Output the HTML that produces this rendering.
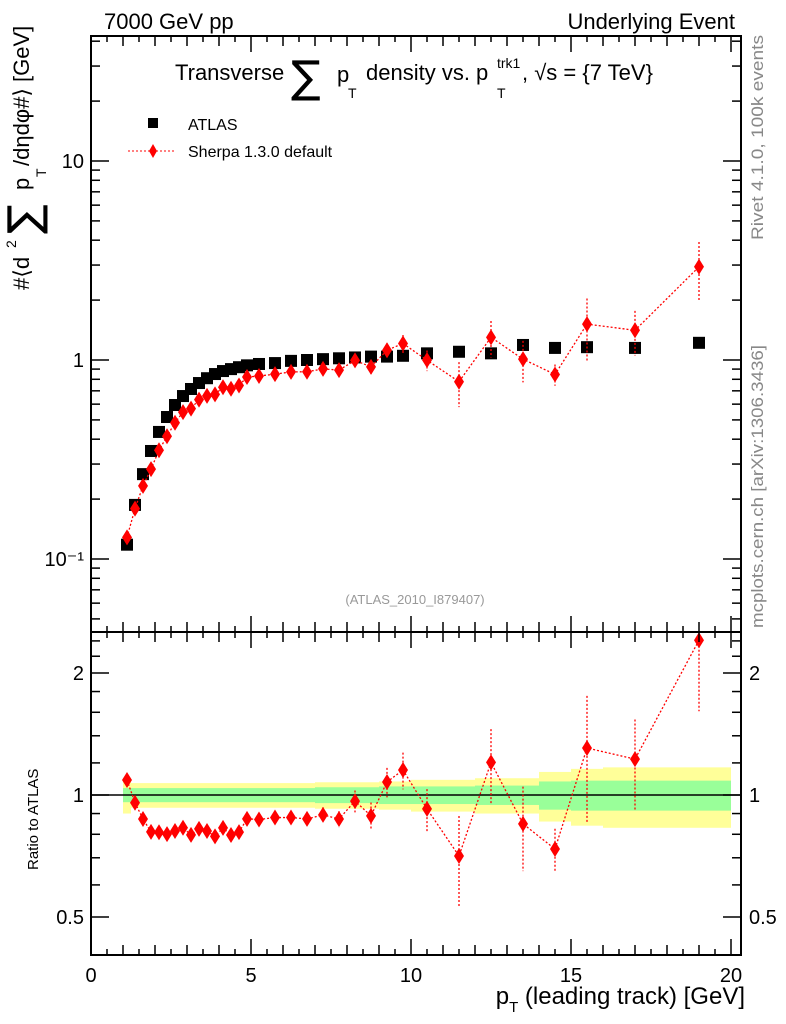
<!DOCTYPE html>
<html><head><meta charset="utf-8"><style>
body{margin:0;background:#fff;}
svg{display:block;font-family:"Liberation Sans",sans-serif;}
</style></head><body>
<svg id="c" width="786" height="1024" viewBox="0 0 786 1024">
<text x="104" y="29" font-size="22">7000 GeV pp</text>
<text x="735" y="29" font-size="22" text-anchor="end">Underlying Event</text>
<g font-size="22">
<text x="175" y="80">Transverse</text>
<text x="291" y="92" font-size="44" font-family="DejaVu Sans,sans-serif">∑</text>
<text x="337" y="82">p</text>
<text x="348" y="98" font-size="14">T</text>
<text x="366" y="80">density vs. p</text>
<text x="497" y="98" font-size="14">T</text>
<text x="497" y="68" font-size="14">trk1</text>
<text x="522" y="80">, √s = {7 TeV}</text>
</g>
<g>
<rect x="148" y="118" width="10" height="10" fill="#000"/>
<text x="188" y="130" font-size="16">ATLAS</text>
<line x1="128" y1="151" x2="174" y2="151" stroke="red" stroke-dasharray="2,2"/>
<path d="M153,144 L157,151 L153,158 L149,151 Z" fill="red"/>
<text x="188" y="157" font-size="16">Sherpa 1.3.0 default</text>
</g>
<text x="415" y="604" font-size="13" fill="#999" text-anchor="middle">(ATLAS_2010_I879407)</text>
<g transform="translate(29,290) rotate(-90)" font-size="22">
<text x="0" y="0">#⟨d</text><text x="42" y="-13" font-size="14">2</text>
<text x="56" y="10" font-size="44" font-family="DejaVu Sans,sans-serif">∑</text>
<text x="100" y="0">p</text><text x="113" y="17" font-size="14">T</text>
<text x="124" y="0">/dηdφ#⟩ [GeV]</text>
</g>
<text transform="translate(763,240) rotate(-90)" font-size="17" fill="#888" textLength="205" lengthAdjust="spacingAndGlyphs">Rivet 4.1.0,  100k events</text>
<text transform="translate(763,628) rotate(-90)" font-size="17" fill="#888" textLength="283" lengthAdjust="spacingAndGlyphs">mcplots.cern.ch [arXiv:1306.3436]</text>
<text transform="translate(38,870) rotate(-90)" font-size="15">Ratio to ATLAS</text>
<text x="745" y="1004" font-size="24" text-anchor="end">p<tspan font-size="15" dy="8">T</tspan><tspan dy="-8"> (leading track) [GeV]</tspan></text>
<g id="g"></g>
</svg>
<script>
const xVals=[1.125,1.375,1.625,1.875,2.125,2.375,2.625,2.875,3.125,3.375,3.625,3.875,4.125,4.375,4.625,4.875,5.25,5.75,6.25,6.75,7.25,7.75,8.25,8.75,9.25,9.75,10.5,11.5,12.5,13.5,14.5,15.5,17,19];
const binEdges=[1,1.25,1.5,1.75,2,2.25,2.5,2.75,3,3.25,3.5,3.75,4,4.25,4.5,4.75,5,5.5,6,6.5,7,7.5,8,8.5,9,9.5,10,11,12,13,14,15,16,18,20];
const atlasVals=[0.118,0.187,0.267,0.349,0.435,0.517,0.594,0.659,0.715,0.766,0.81,0.85,0.88,0.90,0.92,0.94,0.955,0.965,0.99,1.0,1.01,1.02,1.03,1.04,1.04,1.05,1.08,1.10,1.08,1.19,1.15,1.16,1.15,1.22];
const sherpaVals=[0.1285,0.179,0.233,0.283,0.352,0.414,0.484,0.547,0.570,0.632,0.660,0.672,0.730,0.717,0.745,0.821,0.831,0.849,0.871,0.873,0.902,0.890,0.995,0.924,1.12,1.21,0.998,0.778,1.30,1.01,0.846,1.515,1.41,2.94];
const ratioErr=[0.02,0.02,0.02,0.02,0.02,0.02,0.02,0.02,0.02,0.02,0.02,0.02,0.02,0.02,0.02,0.02,0.02,0.03,0.03,0.03,0.04,0.04,0.06,0.07,0.09,0.12,0.11,0.18,0.25,0.2,0.09,0.45,0.31,0.8];
const yellowErr=[0.1,0.07,0.07,0.07,0.07,0.07,0.07,0.07,0.07,0.07,0.07,0.07,0.07,0.07,0.07,0.07,0.07,0.07,0.07,0.07,0.075,0.075,0.075,0.075,0.08,0.08,0.09,0.09,0.1,0.1,0.14,0.16,0.17,0.17];
const greenErr=[0.04,0.04,0.04,0.04,0.04,0.04,0.04,0.04,0.04,0.04,0.04,0.04,0.04,0.04,0.04,0.04,0.04,0.04,0.04,0.04,0.045,0.045,0.045,0.045,0.05,0.05,0.05,0.05,0.055,0.055,0.08,0.085,0.085,0.085];
const xTicks=[0,5,10,15,20];
const mainTicks=[0.1,1,10];
const mainTickLabels=["10\u207B\u00B9","1","10"];
const ratioTicks=[0.5,1,2];
const ratioTickLabels=["0.5","1","2"];

const L=91,R=741,T=36,MB=632,RB=955;
const NS="http://www.w3.org/2000/svg";
const g=document.getElementById('g');
const X=v=>91+v*32;
const YM=v=>360-199*Math.log10(v);
const YR=v=>795-122*Math.log2(v);
function el(t,a,p){const e=document.createElementNS(NS,t);for(const k in a)e.setAttribute(k,a[k]);(p||g).appendChild(e);return e;}
for(let i=0;i<xVals.length;i++){
  const x1=X(binEdges[i]),x2=X(binEdges[i+1]);
  let r=el('rect',{x:x1,y:YR(1+yellowErr[i]),width:x2-x1,height:YR(1-yellowErr[i])-YR(1+yellowErr[i]),fill:'#ffff99'});
  
  
  let q=el('rect',{x:x1,y:YR(1+greenErr[i]),width:x2-x1,height:YR(1-greenErr[i])-YR(1+greenErr[i]),fill:'#99ff99'});
  
  
}
let one=el('line',{x1:L,x2:R,y1:YR(1),y2:YR(1),stroke:'#000','stroke-width':1.5});


const defs=el('defs',{});
const cp1=el('clipPath',{id:'cm'},defs);el('rect',{x:L,y:T,width:R-L,height:MB-T},cp1);
const cp2=el('clipPath',{id:'cr'},defs);el('rect',{x:L,y:MB,width:R-L,height:RB-MB},cp2);
const gm=el('g',{'clip-path':'url(#cm)'});
const gr=el('g',{'clip-path':'url(#cr)'});
for(let i=0;i<xVals.length;i++){
  let s=el('rect',{x:X(xVals[i])-6,y:YM(atlasVals[i])-6,width:12,height:12,fill:'#000'},gm);
  
  
}
function series(gp,Y,vals,errs){
  let d='';
  for(let i=0;i<xVals.length;i++)d+=(i?'L':'M')+X(xVals[i])+','+Y(vals[i]);
  let p=el('path',{d:d,fill:'none',stroke:'red','stroke-dasharray':'2,2','stroke-width':1.3},gp);
  
  
  for(let i=0;i<xVals.length;i++){
    const x=X(xVals[i]),y=Y(vals[i]);
    const lo=Math.max(vals[i]-errs[i],1e-3);
    let e=el('line',{x1:x,x2:x,y1:Y(vals[i]+errs[i]),y2:Y(lo),stroke:'red','stroke-dasharray':'2,2','stroke-width':1.3},gp);
    
    
    let m=el('path',{d:`M${x},${y-8}L${x+5},${y}L${x},${y+8}L${x-5},${y}Z`,fill:'red'},gp);
    
    
  }
}
series(gm,YM,sherpaVals,sherpaVals.map((v,i)=>ratioErr[i]*atlasVals[i]));
series(gr,YR,sherpaVals.map((v,i)=>v/atlasVals[i]),ratioErr);
for(const [y1,y2,n] of [[T,MB,'main-frame'],[MB,RB,'ratio-frame']]){
  let f=el('rect',{x:L,y:y1,width:R-L,height:y2-y1,fill:'none',stroke:'#000','stroke-width':2});
  
  
}
for(let v=0;v<=20.3;v+=0.5){
  const major=Math.abs(v%5)<1e-6, mid=Math.abs(v%1)<1e-6;
  const len=major?16:(mid?10:6);const x=X(v);
  for(const [y,dir] of [[T,1],[MB,-1],[MB,1],[RB,-1]])el('line',{x1:x,x2:x,y1:y,y2:y+dir*len,stroke:'#000','stroke-width':1.5});
}
xTicks.forEach(v=>{let t=el('text',{x:X(v),y:982,'font-size':20,'text-anchor':'middle'});t.textContent=v;});
for(let d=-2;d<=1;d++)for(let k=1;k<10;k++){
  const v=k*Math.pow(10,d);const y=YM(v);if(y<T||y>MB)continue;
  const len=k==1?18:9;
  el('line',{x1:L,x2:L+len,y1:y,y2:y,stroke:'#000','stroke-width':1.5});
  el('line',{x1:R,x2:R-len,y1:y,y2:y,stroke:'#000','stroke-width':1.5});
}
mainTicks.forEach((v,i)=>{let t=el('text',{x:84,y:YM(v)+7,'font-size':20,'text-anchor':'end'});t.textContent=mainTickLabels[i];});
[0.5,0.6,0.7,0.8,0.9,1,1.2,1.4,1.6,1.8,2,2.2,2.4].forEach(v=>{
  const y=YR(v);if(y<MB||y>RB)return;
  const len=(v==0.5||v==1||v==2)?18:9;
  el('line',{x1:L,x2:L+len,y1:y,y2:y,stroke:'#000','stroke-width':1.5});
  el('line',{x1:R,x2:R-len,y1:y,y2:y,stroke:'#000','stroke-width':1.5});
});
ratioTicks.forEach((v,i)=>{
  for(const [x,a] of [[84,'end'],[749,'start']]){let t=el('text',{x:x,y:YR(v)+7,'font-size':20,'text-anchor':a});t.textContent=ratioTickLabels[i];}
});
</script>
</body></html>
